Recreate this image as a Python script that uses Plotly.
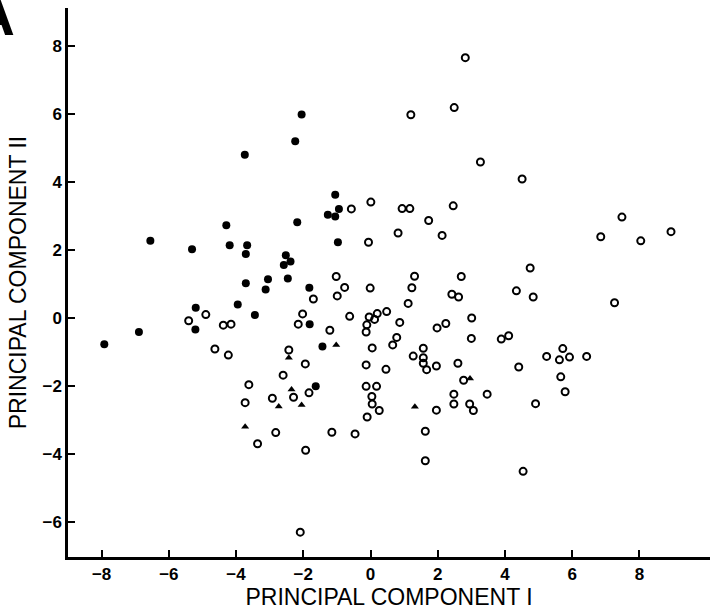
import plotly.graph_objects as go

# Filled circles
filled_x = [-6.55, -5.31, -4.29, -4.19, -3.67, -3.71, -3.74, -3.71, -3.12, -3.05, -2.52, -2.58,
            -2.38, -2.46, -2.24, -2.05, -2.18, -1.82, -1.05, -1.27, -1.05, -0.94, -0.97, -5.20,
            -3.95, -3.44, -5.21, -6.89, -7.92, -1.81, -1.43, -1.63]
filled_y = [2.26, 2.01, 2.72, 2.13, 2.13, 1.87, 4.79, 1.01, 0.83, 1.13, 1.84, 1.55,
            1.65, 1.15, 5.19, 5.98, 2.81, 0.88, 3.62, 3.03, 2.98, 3.20, 2.22, 0.29,
            0.39, 0.08, -0.35, -0.42, -0.78, -0.19, -0.85, -2.02]

# Open circles
open_x = [-0.57, -1.02, -0.77, -0.99, -1.70,
          -5.41, -4.90, -4.38, -4.15, -4.63, -4.23, -2.02, -2.15, -0.62, -1.21, -2.43, -1.94,
          -2.60, -3.62, -3.73, -2.92, -2.29, -1.83, -2.82, -3.36, -1.93, -1.15, -0.46, -2.09,
          2.82, 1.20, 2.49, 3.27, 4.51, 0.01, 0.94, 1.17, 2.46, 1.73, 0.82, 2.13, -0.06,
          7.48, 6.85, 8.04, 8.94, 4.75, 1.31, 2.70, -0.01, 1.23, 2.42, 2.62, 4.34, 4.84, 7.26,
          1.12, -0.04, 0.12, 0.20, 0.48, -0.11, -0.13, 0.87, 1.98, 2.24, 3.01, 3.00, 3.89,
          4.11, 0.78, 0.66, 0.05, 1.27, 1.57, 1.57, 1.57, 1.67, 1.96, 2.60, -0.13, 0.46,
          4.41, 5.24, 5.62, 5.72, 5.92, 6.43, 5.66, 5.79, 4.91, 2.77, -0.13, 0.18, 0.04,
          0.05, 0.26, -0.10, 1.96, 2.48, 2.48, 2.95, 3.06, 3.47, 1.63, 1.63, 4.54]
open_y = [3.20, 1.21, 0.89, 0.64, 0.55,
          -0.09, 0.09, -0.22, -0.19, -0.92, -1.10, 0.11, -0.19, 0.04, -0.37, -0.95, -1.36,
          -1.69, -1.97, -2.50, -2.37, -2.34, -2.21, -3.38, -3.71, -3.90, -3.37, -3.42, -6.31,
          7.65, 5.97, 6.18, 4.58, 4.08, 3.40, 3.21, 3.21, 3.29, 2.86, 2.49, 2.42, 2.22,
          2.96, 2.38, 2.26, 2.53, 1.46, 1.22, 1.21, 0.87, 0.88, 0.69, 0.61, 0.79, 0.61, 0.44,
          0.42, 0.02, -0.05, 0.12, 0.18, -0.21, -0.42, -0.14, -0.30, -0.17, -0.01, -0.61, -0.63,
          -0.53, -0.58, -0.80, -0.89, -1.13, -0.90, -1.18, -1.34, -1.53, -1.42, -1.34, -1.39, -1.52,
          -1.45, -1.14, -1.24, -0.91, -1.16, -1.14, -1.74, -2.18, -2.53, -1.84, -2.02, -2.02, -2.32,
          -2.54, -2.73, -2.92, -2.72, -2.25, -2.54, -2.54, -2.73, -2.25, -3.34, -4.21, -4.52]

# Triangles
tri_x = [-1.02, -2.43, -2.35, -2.73, -2.05, -3.73, 2.96, 1.32]
tri_y = [-0.80, -1.18, -2.11, -2.61, -2.57, -3.21, -1.79, -2.62]

tick_vals = [-8, -6, -4, -2, 0, 2, 4, 6, 8]
x_tick_text = ["\u22128", "\u22126", "\u22124", "\u22122", "0", "2", "4", "6", "8"]
y_tick_vals = [-6, -4, -2, 0, 2, 4, 6, 8]
y_tick_text = ["\u22126", "\u22124", "\u22122", "0", "2", "4", "6", "8"]

fig = go.Figure()
fig.add_trace(go.Scatter(x=open_x, y=open_y, mode="markers",
                         marker=dict(symbol="circle-open", size=7, color="black",
                                     line=dict(width=2, color="black"))))
fig.add_trace(go.Scatter(x=filled_x, y=filled_y, mode="markers",
                         marker=dict(symbol="circle", size=8, color="black")))
fig.add_trace(go.Scatter(x=tri_x, y=tri_y, mode="markers",
                         marker=dict(symbol="triangle-up", size=7, color="black")))

axis_font = dict(family="Liberation Sans, Arial, sans-serif", size=17, color="black", weight="bold")
title_font = dict(family="Liberation Sans, Arial, sans-serif", size=23, color="black")

fig.update_layout(
    width=710, height=615,
    margin=dict(l=68, r=0, t=8, b=58),
    paper_bgcolor="white", plot_bgcolor="white",
    showlegend=False,
    xaxis=dict(range=[-9.0, 10.1], tickvals=tick_vals, ticktext=x_tick_text,
               automargin=False,
               showgrid=False, zeroline=False, showline=True, linecolor="black", linewidth=2.5,
               ticks="inside", ticklen=7, tickwidth=2, tickcolor="black",
               tickfont=axis_font,
               title=dict(text="PRINCIPAL COMPONENT I", font=title_font, standoff=6)),
    yaxis=dict(range=[-7.04, 9.11], tickvals=y_tick_vals, ticktext=y_tick_text,
               automargin=False,
               showgrid=False, zeroline=False, showline=True, linecolor="black", linewidth=2.5,
               ticks="inside", ticklen=7, tickwidth=2, tickcolor="black",
               tickfont=axis_font,
               title=dict(text="PRINCIPAL COMPONENT II", font=title_font, standoff=10)),
    annotations=[dict(text="<b>A</b>", xref="paper", yref="paper", x=-0.08, y=0.925,
                      xanchor="right", yanchor="bottom", showarrow=False,
                      font=dict(family="Liberation Sans, Arial, sans-serif", size=58, color="black"))]
)

fig.write_html("out.html", config={"displayModeBar": False},
               post_script="document.body.style.margin='0px';document.body.style.overflow='hidden';")
